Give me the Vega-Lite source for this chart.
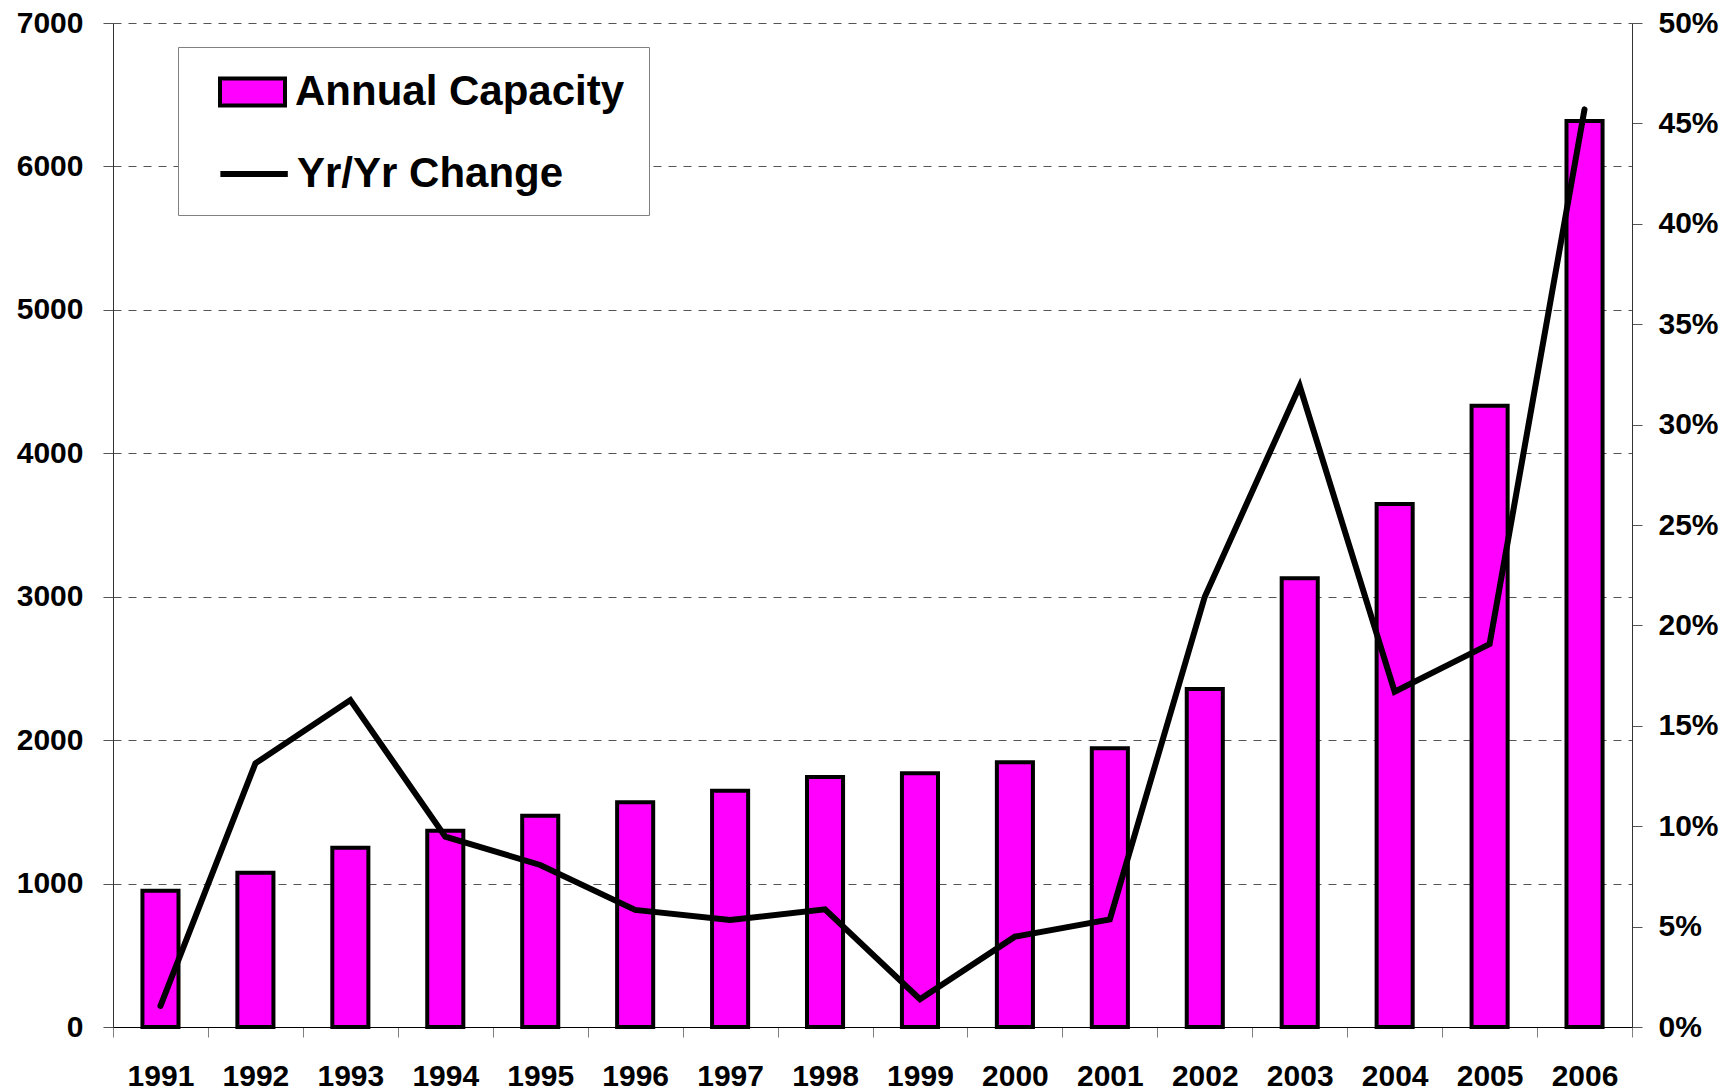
{
  "$schema": "https://vega.github.io/schema/vega-lite/v6.json",
  "width": 1519,
  "height": 1004,
  "autosize": {"type": "none"},
  "padding": {"left": 113, "top": 23, "right": 97, "bottom": 63},
  "background": "white",
  "config": {
    "view": {"stroke": null},
    "axis": {
      "labelFont": "Liberation Sans",
      "labelFontWeight": "bold",
      "labelFontSize": 30,
      "labelColor": "black",
      "labelLimit": 1000,
      "title": null
    },
    "legend": {
      "labelFont": "Liberation Sans",
      "labelFontWeight": "bold",
      "labelFontSize": 42,
      "labelColor": "black",
      "labelLimit": 1000,
      "labelOffset": 54,
      "symbolSize": 1056.25,
      "direction": "vertical",
      "orient": "none"
    }
  },
  "data": {
    "values": [
      {"year": "1991", "capacity": 950, "change": 0.0105},
      {"year": "1992", "capacity": 1075, "change": 0.1313},
      {"year": "1993", "capacity": 1250, "change": 0.1628},
      {"year": "1994", "capacity": 1368, "change": 0.0948},
      {"year": "1995", "capacity": 1473, "change": 0.0807},
      {"year": "1996", "capacity": 1567, "change": 0.0583},
      {"year": "1997", "capacity": 1648, "change": 0.0533},
      {"year": "1998", "capacity": 1743, "change": 0.0586},
      {"year": "1999", "capacity": 1769, "change": 0.0138},
      {"year": "2000", "capacity": 1845, "change": 0.045},
      {"year": "2001", "capacity": 1943, "change": 0.0536},
      {"year": "2002", "capacity": 2357, "change": 0.2143},
      {"year": "2003", "capacity": 3128, "change": 0.3192},
      {"year": "2004", "capacity": 3646, "change": 0.167},
      {"year": "2005", "capacity": 4332, "change": 0.1907},
      {"year": "2006", "capacity": 6317, "change": 0.457}
    ]
  },
  "layer": [
    {
      "mark": {"type": "bar", "stroke": "black", "strokeWidth": 4, "width": {"band": 0.38}},
      "encoding": {
        "x": {
          "field": "year",
          "type": "ordinal",
          "scale": {"paddingInner": 0, "paddingOuter": 0},
          "axis": {
            "tickBand": "extent",
            "tickSize": 10,
            "tickColor": "#808080",
            "domainColor": "black",
            "labelAngle": 0,
            "labelPadding": 24,
            "grid": false
          }
        },
        "y": {
          "field": "capacity",
          "type": "quantitative",
          "scale": {"domain": [0, 7000], "nice": false},
          "axis": {
            "values": [0, 1000, 2000, 3000, 4000, 5000, 6000, 7000],
            "format": "d",
            "grid": true,
            "gridDash": [8, 7],
            "gridColor": "#555555",
            "tickSize": 10,
            "tickColor": "#555555",
            "domainColor": "#333333",
            "labelPadding": 20
          }
        },
        "fill": {
          "datum": "Annual Capacity",
          "type": "nominal",
          "scale": {"domain": ["Annual Capacity"], "range": ["#FF00FF"]},
          "legend": {
            "legendX": 65,
            "legendY": 24,
            "zindex": 1,
            "padding": 24,
            "strokeColor": "#808080",
            "fillColor": "white",
            "title": " ",
            "titleOrient": "bottom",
            "titleFontSize": 40,
            "titlePadding": 38,
            "symbolType": "M0,-0.83H4V0.83H0Z",
            "symbolOffset": -3,
            "symbolStrokeColor": "black",
            "symbolStrokeWidth": 4
          }
        }
      }
    },
    {
      "mark": {"type": "line", "strokeWidth": 6, "strokeCap": "round", "strokeJoin": "miter"},
      "encoding": {
        "x": {"field": "year", "type": "ordinal"},
        "y": {
          "field": "change",
          "type": "quantitative",
          "scale": {"domain": [0, 0.5], "nice": false},
          "axis": {
            "orient": "right",
            "values": [0, 0.05, 0.1, 0.15, 0.2, 0.25, 0.3, 0.35, 0.4, 0.45, 0.5],
            "format": ".0%",
            "grid": false,
            "tickSize": 10,
            "tickColor": "#555555",
            "domainColor": "#333333",
            "labelPadding": 16
          }
        },
        "stroke": {
          "datum": "Yr/Yr Change",
          "type": "nominal",
          "scale": {"domain": ["Yr/Yr Change"], "range": ["#000000"]},
          "legend": {
            "legendX": 88,
            "legendY": 130,
            "zindex": 2,
            "padding": 0,
            "title": null,
            "symbolType": "M-0.1,0H4.05",
            "symbolStrokeWidth": 6
          }
        }
      }
    }
  ],
  "resolve": {"scale": {"y": "independent"}}
}
